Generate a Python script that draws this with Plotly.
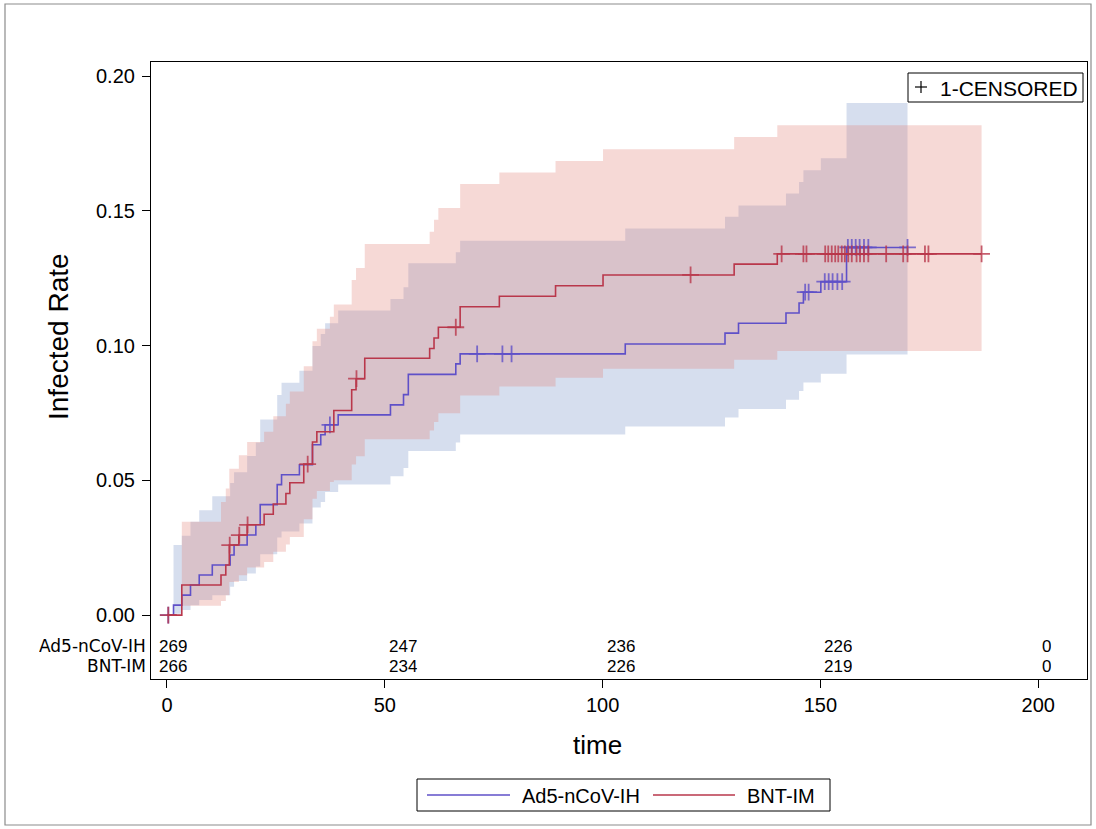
import plotly.graph_objects as go

# ---------------- data ----------------
# Ad5-nCoV-IH : step times, cumulative infected rate, CI lower/upper
ad5_t = [0, 1.5, 3.4, 5.4, 7.4, 10.4, 14.5, 15.4, 18.4, 20.4, 21.4, 25.3, 26.3, 30.4, 33.4, 35.3,
         36.3, 39.3, 51.3, 54.3, 55.4, 66.3, 67.3, 105.2, 128.1, 131.2, 142.1, 145.1, 146.1, 150.1, 156.0]
ad5_f = [0, 0.0037, 0.0074, 0.0112, 0.0149, 0.0186, 0.0223, 0.026, 0.0297, 0.0335, 0.041, 0.0484,
         0.0521, 0.0558, 0.0632, 0.0669, 0.0706, 0.0743, 0.078, 0.0818, 0.0893, 0.0932, 0.0969, 0.1006,
         0.1046, 0.1083, 0.1121, 0.1158, 0.1198, 0.1237, 0.1364]
ad5_lo = [0, 0.0005, 0.0019, 0.0037, 0.0056, 0.0074, 0.0105, 0.0127, 0.0154, 0.018, 0.0226, 0.0288,
          0.031, 0.034, 0.0399, 0.042, 0.0457, 0.0485, 0.0515, 0.0546, 0.0609, 0.064, 0.067, 0.07,
          0.0733, 0.0765, 0.0799, 0.0831, 0.0863, 0.0895, 0.0967]
ad5_hi = [0, 0.026, 0.0294, 0.0346, 0.0389, 0.0441, 0.049, 0.053, 0.059, 0.064, 0.0726, 0.0817,
          0.0862, 0.0907, 0.0998, 0.1043, 0.1083, 0.113, 0.1173, 0.1216, 0.1305, 0.1346, 0.1389, 0.1434,
          0.1478, 0.152, 0.1564, 0.1607, 0.165, 0.1695, 0.19]
ad5_end = 170.0
ad5_cens = [0.3, 37.4, 71.2, 77.0, 79.1, 146.5, 147.3, 151.0, 151.9, 152.8, 153.9, 155.0,
            156.3, 157.2, 158.1, 159.0, 160.0, 161.0, 170.0]

# BNT-IM
bnt_t = [0, 3.4, 12.4, 13.5, 14.3, 16.5, 18.4, 22.3, 24.4, 27.3, 28.2, 31.4, 33.4, 34.4, 37.4, 38.3,
         42.4, 43.4, 45.4, 60.3, 61.3, 62.3, 67.3, 76.3, 89.2, 100.1, 130.2, 140.1]
bnt_f = [0, 0.0112, 0.0149, 0.0186, 0.026, 0.0297, 0.0335, 0.0374, 0.0412, 0.0451, 0.0491, 0.056,
         0.0642, 0.068, 0.068, 0.0759, 0.0836, 0.0877, 0.0953, 0.0989, 0.1028, 0.1068, 0.1144, 0.1183,
         0.1222, 0.1262, 0.1302, 0.134]
bnt_lo = [0, 0.0035, 0.0052, 0.0074, 0.0123, 0.0148, 0.0177, 0.0197, 0.0235, 0.0262, 0.029, 0.0356,
          0.0432, 0.046, 0.0494, 0.05, 0.0559, 0.0589, 0.0652, 0.0685, 0.0716, 0.0749, 0.0815, 0.0848,
          0.0881, 0.0914, 0.0947, 0.098]
bnt_hi = [0, 0.0346, 0.042, 0.047, 0.0543, 0.0593, 0.0642, 0.068, 0.0738, 0.0784, 0.083, 0.0923,
          0.1016, 0.1062, 0.1107, 0.1152, 0.1243, 0.1288, 0.1377, 0.1422, 0.1467, 0.151, 0.1599, 0.1642,
          0.1685, 0.1728, 0.1774, 0.1817]
bnt_end = 187.0
bnt_cens = [0.3, 14.4, 16.6, 18.5, 32.3, 43.5, 66.3, 120.2, 141.1, 146.1, 146.8,
            151.1, 151.8, 152.6, 153.4, 154.1, 154.9, 155.6, 156.4, 157.2, 158.3, 159.1, 160.0, 161.0,
            165.1, 169.0, 170.0, 174.0, 174.8, 187.0]

# at-risk table
risk_times = [0, 50, 100, 150, 200]
risk_ad5 = ["269", "247", "236", "226", "0"]
risk_bnt = ["266", "234", "226", "219", "0"]
groups = ["Ad5-nCoV-IH", "BNT-IM"]
censor_label = "1-CENSORED"
x_title = "time"
y_title = "Infected Rate"

y_ticks = [0.0, 0.05, 0.10, 0.15, 0.20]
x_ticks = [0, 50, 100, 150, 200]

# ---------------- styling ----------------
FONT = "Liberation Sans, Arial, sans-serif"
LABEL_FONT = "DejaVu Sans, Liberation Sans, sans-serif"
BLUE_LINE = "rgb(95,80,200)"
RED_LINE = "rgb(185,55,75)"
BLUE_BAND = "rgba(120,145,200,0.30)"
RED_BAND = "rgba(225,130,120,0.30)"

W, H = 1096, 829
L, R, T, B = 151, 9, 62, 150
PW, PH = W - L - R, H - T - B


def px(x):   # page pixel -> paper x
    return (x - L) / PW


def py(y):   # page pixel -> paper y
    return (H - B - y) / PH


def step_xy(t, v, end):
    xs, ys = [], []
    for i in range(len(t)):
        nxt = t[i + 1] if i + 1 < len(t) else end
        xs += [t[i], nxt]
        ys += [v[i], v[i]]
    return xs, ys


def band_polygon(t, lo, hi, end):
    xu, yu = step_xy(t, hi, end)
    xl, yl = step_xy(t, lo, end)
    return xu + xl[::-1] + [xu[0]], yu + yl[::-1] + [yu[0]]


def value_at(t, v, x):
    val = v[0]
    for ti, vi in zip(t, v):
        if ti <= x:
            val = vi
    return val


fig = go.Figure()

# confidence bands
for t, lo, hi, end, col in [(ad5_t, ad5_lo, ad5_hi, ad5_end, BLUE_BAND),
                            (bnt_t, bnt_lo, bnt_hi, bnt_end, RED_BAND)]:
    bx, by = band_polygon(t, lo, hi, end)
    fig.add_trace(go.Scatter(x=bx, y=by, mode="lines", fill="toself", fillcolor=col,
                             line=dict(width=0), hoverinfo="skip", showlegend=False))

# step lines + censor marks
for name, t, f, end, cens, col in [(groups[0], ad5_t, ad5_f, ad5_end, ad5_cens, BLUE_LINE),
                                   (groups[1], bnt_t, bnt_f, bnt_end, bnt_cens, RED_LINE)]:
    sx, sy = step_xy(t, f, end)
    fig.add_trace(go.Scatter(x=sx, y=sy, mode="lines", line=dict(color=col, width=1.6),
                             name=name, showlegend=False))
    fig.add_trace(go.Scatter(x=cens, y=[value_at(t, f, c) for c in cens], mode="markers",
                             marker=dict(symbol="cross-thin", size=12, opacity=0.8,
                                         line=dict(color=col, width=1.8)),
                             showlegend=False, hoverinfo="skip"))

# at-risk table (row centres at page y = 646 and 666)
for row, (label, vals) in enumerate(zip(groups, [risk_ad5, risk_bnt])):
    yy = (615 - (646 + 20 * row)) / 2695.0
    fig.add_annotation(x=0, xref="paper", y=yy, yref="y", text=label, showarrow=False,
                       xanchor="right", yanchor="middle", xshift=-3, height=18,
                       font=dict(family=LABEL_FONT, size=17, color="black"))
    for tx, v in zip(risk_times, vals):
        fig.add_annotation(x=tx, xref="x", y=yy, yref="y", text=v, showarrow=False,
                           xanchor="left", yanchor="middle", xshift=(-10 if tx == 0 else 2), height=18,
                           font=dict(family=FONT, size=17, color="black"))

# axis titles
fig.add_annotation(x=px(597), xref="paper", y=py(745), yref="paper", text=x_title, showarrow=False,
                   xanchor="center", yanchor="middle", font=dict(family=FONT, size=26, color="black"))
fig.add_annotation(x=px(58), xref="paper", y=py(337), yref="paper", text=y_title, showarrow=False,
                   textangle=-90, xanchor="center", yanchor="middle",
                   font=dict(family=FONT, size=28, color="black"))

# outer frame
fig.add_shape(type="rect", xref="paper", yref="paper", x0=px(5), x1=px(1091), y0=py(825), y1=py(4),
              line=dict(color="#8c8c8c", width=1.2), layer="below")

# bottom legend (drawn manually to match the box geometry)
fig.add_shape(type="rect", xref="paper", yref="paper", x0=px(417), x1=px(830), y0=py(811), y1=py(779),
              line=dict(color="black", width=1), fillcolor="white")
for (x0, x1, tx), name, col in zip([(427, 510, 520), (653, 735, 745)], groups, [BLUE_LINE, RED_LINE]):
    fig.add_shape(type="line", xref="paper", yref="paper", x0=px(x0), x1=px(x1), y0=py(795), y1=py(795),
                  line=dict(color=col, width=1.5))
    fig.add_annotation(x=px(tx), xref="paper", y=py(795.5), yref="paper", text=name, showarrow=False,
                       xanchor="left", yanchor="middle", font=dict(family=FONT, size=20, color="black"))

# censored legend (top right)
fig.add_shape(type="rect", xref="paper", yref="paper", x0=px(908), x1=px(1083), y0=py(102), y1=py(73),
              line=dict(color="black", width=1), fillcolor="white")
fig.add_shape(type="line", xref="paper", yref="paper", x0=px(915), x1=px(927), y0=py(87), y1=py(87),
              line=dict(color="black", width=1.2))
fig.add_shape(type="line", xref="paper", yref="paper", x0=px(921), x1=px(921), y0=py(81), y1=py(93),
              line=dict(color="black", width=1.2))
fig.add_annotation(x=px(938), xref="paper", y=py(88), yref="paper", text=censor_label, showarrow=False,
                   xanchor="left", yanchor="middle", font=dict(family=FONT, size=21, color="black"))

fig.update_layout(
    width=W, height=H,
    margin=dict(l=L, r=R, t=T, b=B, pad=0),
    paper_bgcolor="white", plot_bgcolor="white",
    font=dict(family=FONT, size=20, color="black"),
    showlegend=False,
    xaxis=dict(range=[-3.67, 211.2], tickvals=x_ticks, ticks="outside", ticklen=8,
               tickcolor="black", showline=True, linecolor="black", linewidth=1.2, mirror=True,
               showgrid=False, zeroline=False, tickfont=dict(size=20)),
    yaxis=dict(range=[-0.0237, 0.2052], tickvals=y_ticks, ticktext=[f"{v:.2f}" for v in y_ticks],
               ticks="outside", ticklen=8, tickcolor="black", showline=True, linecolor="black",
               linewidth=1.2, mirror=True, showgrid=False, zeroline=False, tickfont=dict(size=20),
               ticklabelstandoff=3),
)

fig.write_html("out.html", config={"displayModeBar": False},
               post_script="document.body.style.margin='0';")
